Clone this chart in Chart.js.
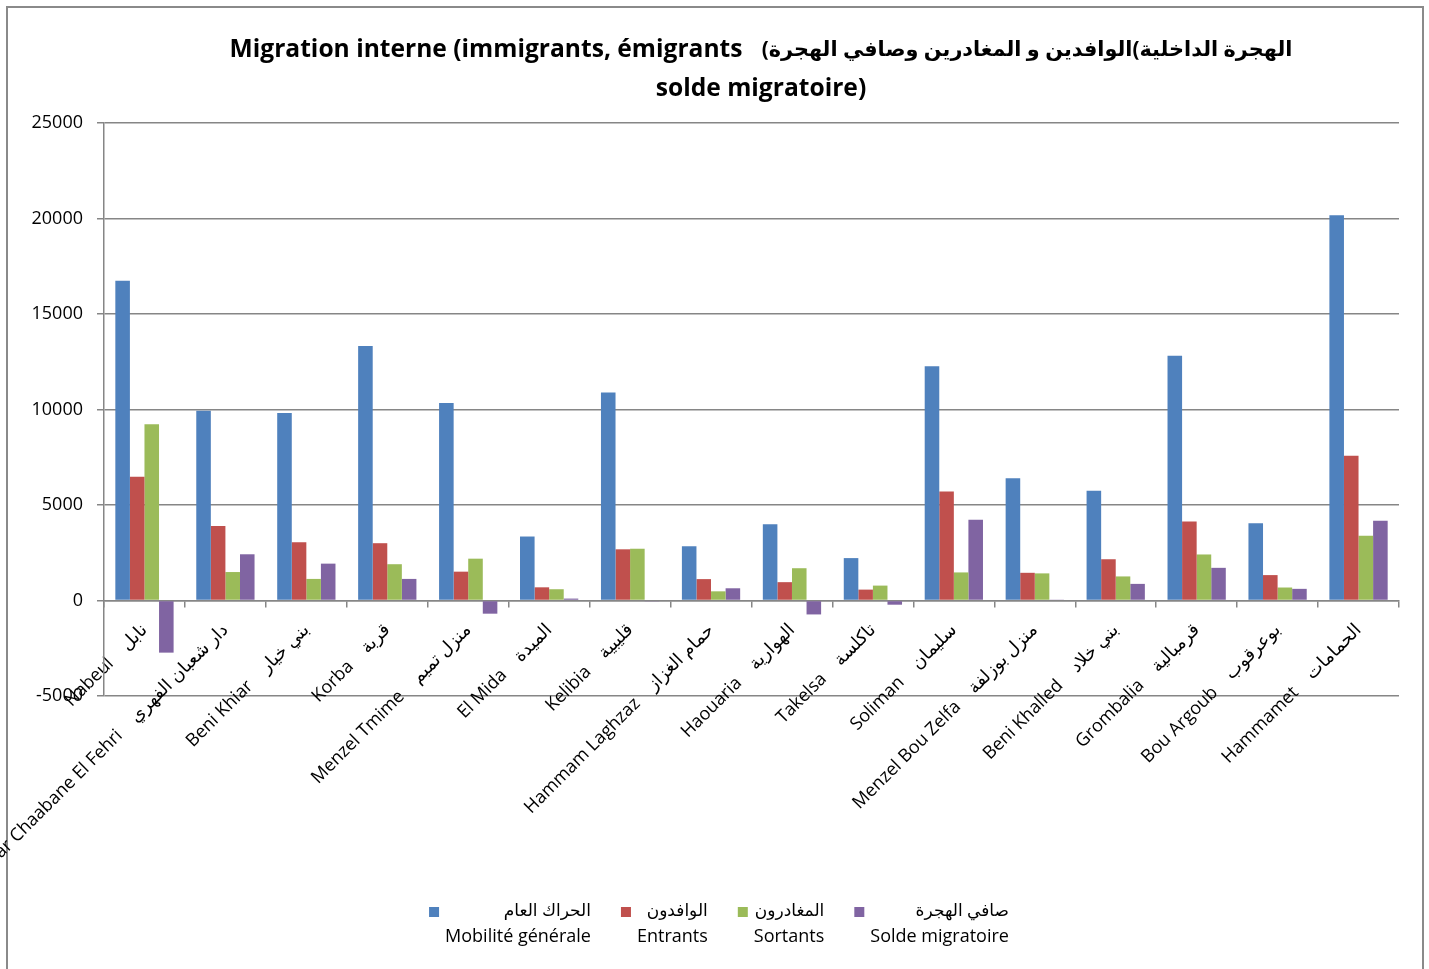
<!DOCTYPE html>
<html><head><meta charset="utf-8">
<script src="https://cdn.jsdelivr.net/npm/chart.js@4"></script>
<style>html,body{margin:0;padding:0;background:#fff;} canvas{display:block;}</style>
</head><body>
<canvas id="c" width="1429" height="969"></canvas>
<script>
const categoriesFr = ["Nabeul","Dar Chaabane El Fehri","Beni Khiar","Korba","Menzel Tmime","El Mida","Kelibia","Hammam Laghzaz","Haouaria","Takelsa","Soliman","Menzel Bou Zelfa","Beni Khalled","Grombalia","Bou Argoub","Hammamet"];
const categoriesAr = ["نابل","دار شعبان الفهري","بني خيار","قربة","منزل تميم","الميدة","قليبية","حمام الغزاز","الهوارية","تاكلسة","سليمان","منزل بوزلفة","بني خلاد","قرمبالية","بوعرقوب","الحمامات"];
const seriesFr = ["Mobilité générale","Entrants","Sortants","Solde migratoire"];
const seriesAr = ["الحراك العام","الوافدون","المغادرون","صافي الهجرة"];
const mobilite = [16740, 9930, 9820, 13320, 10340, 3350, 10890, 2840, 3990, 2220, 12270, 6400, 5740, 12810, 4050, 20170];
const entrants = [6480, 3900, 3050, 3000, 1510, 690, 2680, 1120, 960, 570, 5710, 1450, 2160, 4140, 1330, 7580];
const sortants = [9230, 1490, 1130, 1900, 2190, 590, 2710, 480, 1690, 780, 1470, 1420, 1260, 2410, 680, 3390];
const solde = [-2730, 2420, 1930, 1130, -690, 100, -30, 640, -730, -220, 4230, 30, 870, 1710, 610, 4170];
const yTickValues = [-5000, 0, 5000, 10000, 15000, 20000, 25000];
const titleLatin1 = "Migration interne (immigrants, émigrants";
const titleArabicA = "الوافدين و المغادرين وصافي الهجرة";
const titleArabicB = "الهجرة الداخلية";
const titleLine2 = "solde migratoire)";
const colors = ["#4F81BD","#C0504D","#9BBB59","#8064A2"];

const FONT = "'Open Sans', 'DejaVu Sans', sans-serif";
const labelGap = "    ";
const xLabels = categoriesFr.map((f, i) => f + labelGap + categoriesAr[i]);
const seriesData = [mobilite, entrants, sortants, solde];

const framePlugin = {
  id: 'frame',
  beforeDraw(chart) {
    const ctx = chart.ctx;
    ctx.save();
    ctx.fillStyle = '#fff';
    ctx.fillRect(0, 0, chart.width, chart.height);
    ctx.strokeStyle = '#8a8a8a';
    ctx.lineWidth = 2;
    ctx.strokeRect(7, 7, 1416, 1000);
    ctx.restore();
  }
};

const titlePlugin = {
  id: 'customTitle',
  afterDraw(chart) {
    const ctx = chart.ctx;
    ctx.save();
    ctx.fillStyle = '#000';
    ctx.textBaseline = 'middle';
    ctx.direction = 'ltr';
    ctx.font = "bold 100px " + FONT;
    const w100 = ctx.measureText(titleLatin1).width;
    const size = Math.round(100 * 513 / w100 * 10) / 10;
    const arParts = ["(", titleArabicA, "(", titleArabicB];
    const a100 = arParts.reduce((s, p) => s + ctx.measureText(p).width, 0);
    const arSize = Math.round(100 * 530 / a100 * 10) / 10;
    ctx.font = "bold " + size + "px " + FONT;
    const latin = titleLatin1 + "   ";
    const lw = ctx.measureText(latin).width;
    ctx.font = "bold " + arSize + "px " + FONT;
    const widths = arParts.map(p => ctx.measureText(p).width);
    const total = lw + widths.reduce((a, b) => a + b, 0);
    let x = 761 - total / 2;
    ctx.textAlign = 'left';
    ctx.font = "bold " + size + "px " + FONT;
    ctx.fillText(latin, x, 50);
    x += lw;
    ctx.font = "bold " + arSize + "px " + FONT;
    arParts.forEach((p, i) => { ctx.fillText(p, x, 50); x += widths[i]; });
    ctx.font = "bold " + size + "px " + FONT;
    ctx.textAlign = 'center';
    ctx.fillText(titleLine2, 761, 89);
    ctx.restore();
  }
};

const legendPlugin = {
  id: 'customLegend',
  afterDraw(chart) {
    const ctx = chart.ctx;
    ctx.save();
    ctx.textBaseline = 'middle';
    ctx.direction = 'ltr';
    const latinFont = "18px " + FONT;
    const arFont = "17px " + FONT;
    const marker = 10, mGap = 6, itemGap = 30;
    const items = chart.data.datasets.map((ds, i) => {
      ctx.font = latinFont;
      const lw = ctx.measureText(seriesFr[i]).width;
      ctx.font = arFont;
      const aw = ctx.measureText(seriesAr[i]).width;
      return { lw, aw, w: marker + mGap + Math.max(lw, aw), color: ds.backgroundColor };
    });
    const total = items.reduce((a, it) => a + it.w, 0) + itemGap * (items.length - 1);
    let x = 719 - total / 2;
    items.forEach((it, i) => {
      ctx.fillStyle = it.color;
      ctx.fillRect(x, 907, marker, marker);
      const tx = x + marker + mGap;
      const right = tx + Math.max(it.lw, it.aw);
      ctx.fillStyle = '#000';
      ctx.font = arFont;
      ctx.textAlign = 'right';
      ctx.fillText(seriesAr[i], right, 911);
      ctx.font = latinFont;
      ctx.textAlign = 'left';
      ctx.fillText(seriesFr[i], tx, 937);
      x += it.w + itemGap;
    });
    ctx.restore();
  }
};

new Chart(document.getElementById('c'), {
  type: 'bar',
  data: {
    labels: xLabels,
    datasets: seriesData.map((d, i) => ({
      label: seriesFr[i],
      data: d,
      backgroundColor: colors[i],
      borderWidth: 0
    }))
  },
  options: {
    responsive: false,
    animation: false,
    devicePixelRatio: 1,
    layout: { padding: { left: 0, right: 30, top: 123, bottom: 273 } },
    plugins: { legend: { display: false }, title: { display: false }, tooltip: { enabled: false } },
    datasets: { bar: { categoryPercentage: 0.72, barPercentage: 1 } },
    scales: {
      x: {
        position: { y: 0 },
        grid: { drawOnChartArea: false, drawTicks: true, tickLength: 6, color: '#868686', lineWidth: 1.5, offset: true },
        border: { color: '#868686', width: 1.5 },
        ticks: { autoSkip: false, maxRotation: 45, minRotation: 45, padding: 13, color: '#000', font: { family: FONT, size: 18 } }
      },
      y: {
        min: yTickValues[0],
        max: yTickValues[yTickValues.length - 1],
        afterBuildTicks(scale) { scale.ticks = yTickValues.map(v => ({ value: v })); },
        ticks: { padding: 14, color: '#000', font: { family: FONT, size: 18 }, callback: v => String(v) },
        grid: { color: '#868686', lineWidth: 1.5, tickLength: 7 },
        border: { color: '#868686', width: 1.5 },
        afterFit(s) { s.width = 104; }
      }
    }
  },
  plugins: [framePlugin, titlePlugin, legendPlugin]
});
</script>
</body></html>
